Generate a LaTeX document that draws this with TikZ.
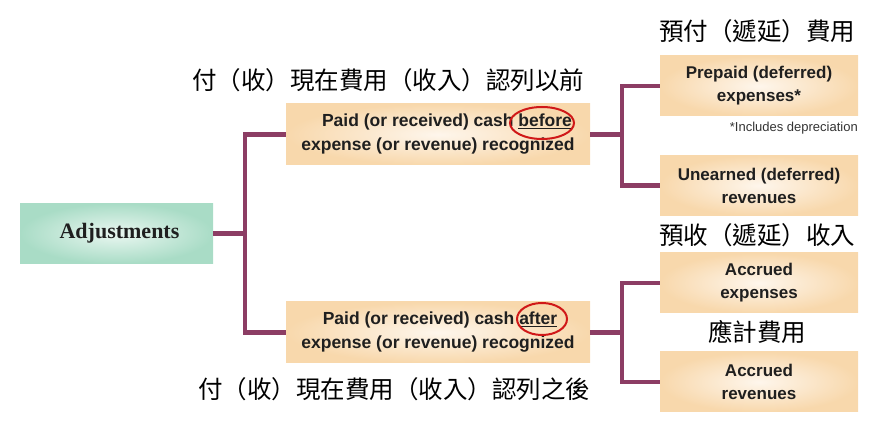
\documentclass[tikz,border=0pt]{standalone}
\usepackage{fontspec}
\setmainfont{Liberation Sans}
\newfontfamily\cjk{Noto Sans CJK TC}
\newfontfamily\serifb{Liberation Serif}
\usetikzlibrary{shapes.geometric}
\definecolor{linkc}{HTML}{8C3D64}
\definecolor{tanout}{HTML}{F8D8AC}
\definecolor{tanin}{HTML}{FEF6EC}
\definecolor{grnout}{HTML}{A9DCC6}
\definecolor{grnin}{HTML}{EAF7F1}
\definecolor{redc}{HTML}{D01818}
\tikzset{
  tanbox/.style={rectangle, inner sep=0pt, shading=radial, inner color=tanin, outer color=tanout,
    align=center, text=black!88},
  midbox/.style={tanbox, minimum width=304pt, minimum height=61pt, font=\fontsize{17.5}{24}\selectfont\bfseries},
  rbox/.style={tanbox, minimum width=198pt, minimum height=60pt, font=\fontsize{17}{23}\selectfont\bfseries},
  link/.style={draw=linkc, line width=4.5pt},
  cnlabel/.style={font=\cjk\fontsize{24.5}{27}\selectfont, inner sep=0pt},
  circ/.style={draw=redc, line width=2pt},
}
\begin{document}
\begin{tikzpicture}[x=1pt,y=-1pt]
\useasboundingbox (0,0) rectangle (879,435);
% boxes
\node[rectangle, inner sep=0pt, minimum width=193pt, minimum height=60pt, shading=radial, inner color=grnin, outer color=grnout,
  font=\serifb\fontsize{22}{24}\selectfont\bfseries, text=black!88] (adj) at (116.5,233.5) {\hspace*{6pt}Adjustments};
\node[midbox] (before) at (438,134.5) {\hspace*{18pt}Paid (or received) cash \underline{before}\\expense (or revenue) recognized};
\node[midbox] (after) at (438,332.5) {\hspace*{4pt}Paid (or received) cash \underline{after}\\expense (or revenue) recognized};
\node[rbox] (prepaid) at (759,86) {Prepaid (deferred)\\expenses*};
\node[rbox] (unearned) at (759,185.5) {Unearned (deferred)\\revenues};
\node[rbox] (accexp) at (759,283) {Accrued\\expenses};
\node[rbox] (accrev) at (759,382) {Accrued\\revenues};
% notes
\node[font=\fontsize{13}{15}\selectfont, anchor=east, inner sep=0pt, text=black!80] (note) at (858,128) {*Includes depreciation};
\node[cnlabel] (l1) at (757,31) {預付（遞延）費用};
\node[cnlabel] (l2) at (388,80) {付（收）現在費用（收入）認列以前};
\node[cnlabel] (l3) at (757,235) {預收（遞延）收入};
\node[cnlabel] (l4) at (757,332) {應計費用};
\node[cnlabel] (l5) at (394,389) {付（收）現在費用（收入）認列之後};
% connectors
\coordinate (j1) at (245,0);
\coordinate (j2) at (622,0);
\draw[link] (adj.east) -- (adj.east -| j1);
\draw[link] (before.west) -| (after.west -| j1) -- (after.west);
\draw[link] (before.east) -- (before.east -| j2);
\draw[link] (prepaid.west) -| (unearned.west -| j2) -- (unearned.west);
\draw[link] (after.east) -- (after.east -| j2);
\draw[link] (accexp.west) -| (accrev.west -| j2) -- (accrev.west);
% circles
\draw[circ] (542,123) ellipse (32 and 16);
\draw[circ] (542,319) ellipse (25 and 16);
\end{tikzpicture}
\end{document}
